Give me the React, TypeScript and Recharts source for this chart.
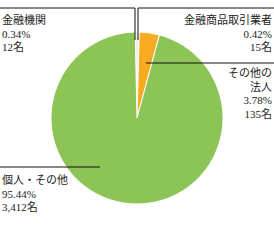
import React from "react";
import { PieChart, Pie, Cell } from "recharts";

const categories = ["金融機関", "金融商品取引業者", "その他の法人", "個人・その他"];
const percents = [0.34, 0.42, 3.78, 95.44];
const counts = [12, 15, 135, 3412];
const colors = ["#f3a98c", "#cde5f1", "#f6ab20", "#8cc456"];

// label name lines (how each category label wraps)
const nameLines = [["金融機関"], ["金融商品取引業者"], ["その他の", "法人"], ["個人・その他"]];

const data = categories.map((c, i) => ({ name: c, value: percents[i], count: counts[i] }));

// layout of label texts and leader lines
const layout = [
  { x: 2, y: 24, anchor: "start", line: [[0, 8], [135, 8], [135, 40]] },
  { x: 272, y: 24, anchor: "end", line: [[274, 8], [138, 8], [138, 40]] },
  { x: 272, y: 77, anchor: "end", line: [[274, 63], [146, 63]] },
  { x: 2, y: 184, anchor: "start", line: [[0, 167], [100, 167]] },
];

const FONT = "'Liberation Serif', 'DejaVu Serif', 'Noto Sans CJK JP', serif";
const LH = 13.6;

const renderLabel = (props: any) => {
  const i = props.index;
  const L = layout[i];
  const lines = [...nameLines[i], `${percents[i].toFixed(2)}%`, `${counts[i].toLocaleString("en-US")}名`];
  const pts = L.line.map((p) => p.join(",")).join(" ");
  return (
    <g key={`lbl-${i}`}>
      <polyline points={pts} fill="none" stroke="#111" strokeWidth={1} />
      <text x={L.x} y={L.y} textAnchor={L.anchor as any} fontFamily={FONT} fontSize={11} fill="#222">
        {lines.map((t, k) => (
          <tspan key={k} x={L.x} dy={k === 0 ? 0 : LH}>
            {t}
          </tspan>
        ))}
      </text>
    </g>
  );
};

export default function App() {
  const start = 90 + (percents[0] * 360) / 100;
  return (
    <div style={{ position: "absolute", left: 0, top: 0, width: 274, height: 251, background: "#fff" }}>
      <PieChart width={274} height={251} margin={{ top: 0, right: 0, bottom: 0, left: 0 }}>
        <Pie
          data={data}
          dataKey="value"
          nameKey="name"
          cx={137}
          cy={118}
          outerRadius={86}
          innerRadius={0}
          startAngle={start}
          endAngle={start - 360}
          stroke="#ffffff"
          strokeWidth={1}
          label={renderLabel}
          labelLine={false}
          isAnimationActive={false}
        >
          {data.map((d, i) => (
            <Cell key={d.name} fill={colors[i]} />
          ))}
        </Pie>
      </PieChart>
    </div>
  );
}
